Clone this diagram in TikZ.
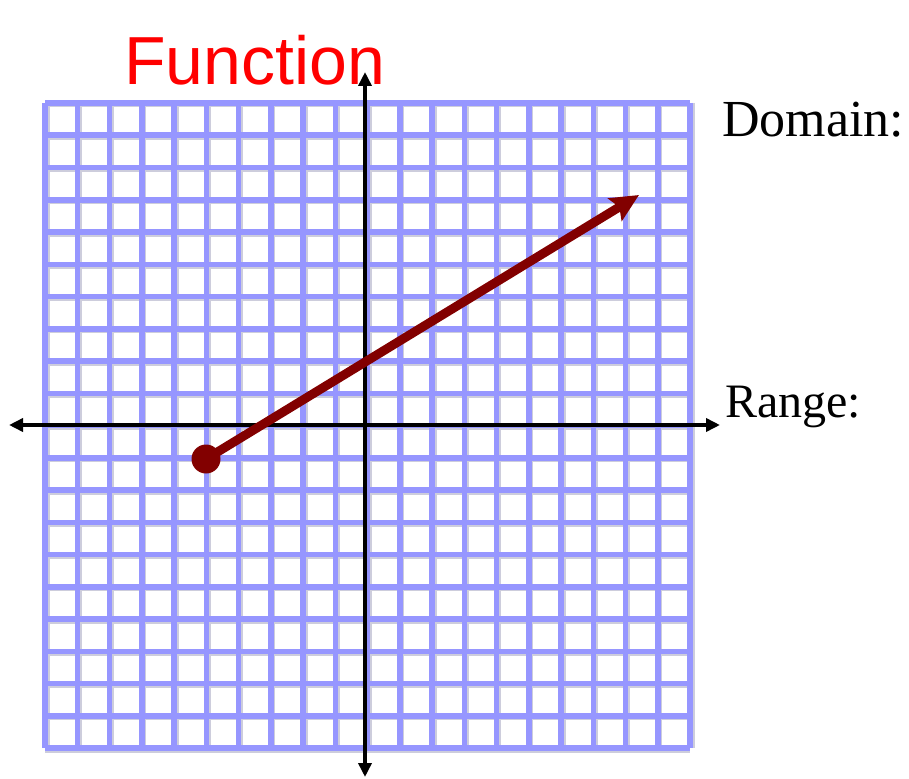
\documentclass[tikz,border=0pt]{standalone}
\usepackage{fontspec}
\setmainfont{Liberation Serif}
\newfontfamily\handfont{Liberation Sans}
\usetikzlibrary{arrows.meta}
\definecolor{gridblue}{RGB}{150,150,255}
\definecolor{gridshadow}{RGB}{205,205,220}
\definecolor{darkred}{RGB}{130,0,0}
\definecolor{handred}{RGB}{255,0,0}
\begin{document}
\begin{tikzpicture}[x=1pt,y=-1pt,
  gridline/.style={draw=gridblue,line width=5.5pt},
  shadowline/.style={draw=gridshadow,line width=6pt},
  axisline/.style={draw=black,line width=3.6pt,{Triangle[length=14pt,width=13pt]}-{Triangle[length=14pt,width=13pt]}},
  funcline/.style={draw=darkred,line width=9pt,-{Stealth[length=28pt,width=26pt,inset=5pt]}},
  labeltext/.style={font=\fontsize{48}{56}\selectfont,anchor=base west,inner sep=0pt},
  titletext/.style={font=\handfont\fontsize{68}{76}\selectfont,text=handred,anchor=base west,inner sep=0pt}]
\useasboundingbox (0,0) rectangle (909,778);
% grid shadow
\foreach \i in {0,...,20}{
  \draw[shadowline] ({45+32.25*\i+1.5},103) -- ({45+32.25*\i+1.5},748);
  \draw[shadowline] (45,{103+32.25*\i+1.5}) -- (690,{103+32.25*\i+1.5});
}
% grid
\foreach \i in {0,...,20}{
  \draw[gridline] ({45+32.25*\i},103) -- ({45+32.25*\i},748);
  \draw[gridline] (45,{103+32.25*\i}) -- (690,{103+32.25*\i});
}
% axes
\coordinate (xl) at (9,425);
\coordinate (xr) at (720,425);
\coordinate (yt) at (365,72);
\coordinate (yb) at (365,777);
\draw[axisline] (xl) -- (xr);
\draw[axisline] (yb) -- (yt);
% function ray
\coordinate (start) at (206,459);
\coordinate (tip) at (639,195);
\draw[funcline] (start) -- (tip);
\fill[darkred] (start) circle (14.5pt);
% labels
\node[titletext] (title) at (124,85) {Function};
\node[labeltext,font=\fontsize{52}{60}\selectfont] (domain) at (722,137) {Domain:};
\node[labeltext] (range) at (725,417) {Range:};
\end{tikzpicture}
\end{document}
